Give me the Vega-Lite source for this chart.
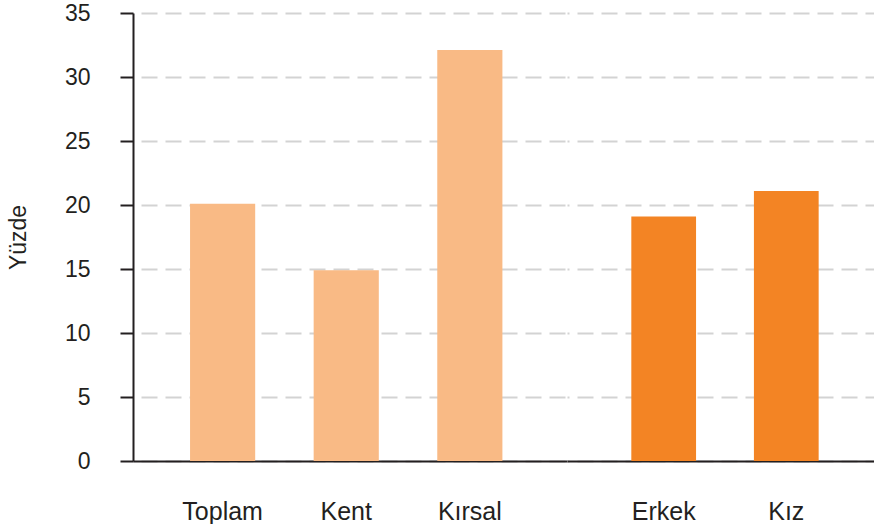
{
  "$schema": "https://vega.github.io/schema/vega-lite/v6.json",
  "padding": {"left": 7, "top": 2, "right": 0, "bottom": 0},
  "background": "white",
  "config": {
    "view": {"stroke": null},
    "font": "Liberation Sans",
    "axis": {
      "labelFont": "Liberation Sans",
      "titleFont": "Liberation Sans",
      "labelColor": "#231f20",
      "titleColor": "#231f20",
      "domainColor": "#231f20",
      "tickColor": "#231f20",
      "domainWidth": 2,
      "tickWidth": 2,
      "gridColor": "#d3d3d3",
      "gridWidth": 2,
      "gridDash": [16, 8],
      "gridDashOffset": 16
    }
  },
  "datasets": {
    "bars": [
      {"group": "Alan", "label": "Toplam", "value": 20.1},
      {"group": "Alan", "label": "Kent", "value": 14.9},
      {"group": "Alan", "label": "Kırsal", "value": 32.1},
      {"group": "Cinsiyet", "label": "Erkek", "value": 19.1},
      {"group": "Cinsiyet", "label": "Kız", "value": 21.1}
    ]
  },
  "spacing": 0,
  "hconcat": [
    {
      "width": 434,
      "height": 448,
      "data": {"name": "bars"},
      "transform": [{"filter": "datum.group === 'Alan'"}],
      "mark": {"type": "bar", "color": "#f9ba85"},
      "encoding": {
        "x": {
          "field": "label",
          "type": "nominal",
          "sort": ["Toplam", "Kent", "Kırsal"],
          "scale": {"paddingInner": 0.473, "paddingOuter": 0.492, "align": 0.469},
          "axis": {"title": null, "labelAngle": 0, "ticks": false, "labelPadding": 38, "labelFontSize": 25, "domain": true}
        },
        "y": {
          "field": "value",
          "type": "quantitative",
          "scale": {"domain": [0, 35], "nice": false},
          "axis": {
            "title": "Yüzde",
            "values": [0, 5, 10, 15, 20, 25, 30, 35],
            "tickSize": 13,
            "labelPadding": 30,
            "labelFontSize": 23,
            "titleFontSize": 23,
            "titleFontWeight": "normal",
            "titlePadding": 34
          }
        }
      }
    },
    {
      "width": 307,
      "height": 448,
      "data": {"name": "bars"},
      "transform": [{"filter": "datum.group === 'Cinsiyet'"}],
      "mark": {"type": "bar", "color": "#f38424"},
      "encoding": {
        "x": {
          "field": "label",
          "type": "nominal",
          "sort": ["Erkek", "Kız"],
          "scale": {"paddingInner": 0.472, "paddingOuter": 0.488, "align": 0.5375},
          "axis": {"title": null, "labelAngle": 0, "ticks": false, "labelPadding": 38, "labelFontSize": 25, "domain": true}
        },
        "y": {
          "field": "value",
          "type": "quantitative",
          "scale": {"domain": [0, 35], "nice": false},
          "axis": {
            "title": null,
            "values": [0, 5, 10, 15, 20, 25, 30, 35],
            "labels": false,
            "ticks": false,
            "domain": false,
            "grid": true,
            "gridDashOffset": 14
          }
        }
      }
    }
  ]
}
